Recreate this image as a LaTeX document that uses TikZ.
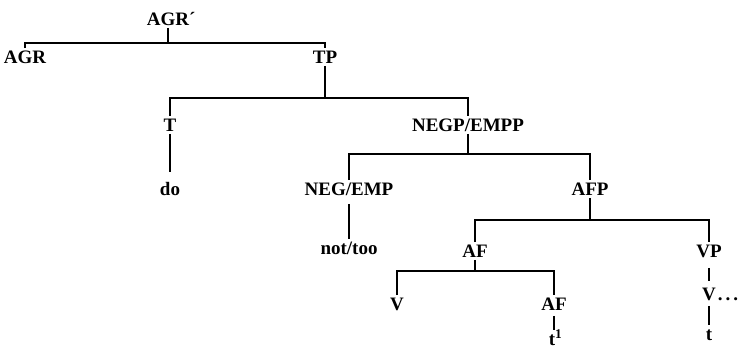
\documentclass[tikz,border=0pt]{standalone}
\usepackage{fontspec}
\setmainfont{Liberation Serif}
\begin{document}
\begin{tikzpicture}[x=1pt,y=1pt,
  lab/.style={font=\fontsize{19}{21}\selectfont\bfseries, text height=12.5pt, text depth=0pt, inner sep=2.5pt, anchor=center},
  br/.style={line width=1.4pt}]
\useasboundingbox (0,0) rectangle (751,-361);
% nodes
\node[lab] (agrp) at (168,-19) {AGR\rlap{´}};
\node[lab] (agr) at (25,-57) {AGR};
\node[lab] (tp) at (325,-57) {TP};
\node[lab] (t) at (170,-125) {T};
\node[lab] (negpp) at (468,-125) {NEGP/EMPP};
\node[lab] (do) at (170,-189) {do};
\node[lab] (negemp) at (349,-189) {NEG/EMP};
\node[lab] (afp) at (590,-189) {AFP};
\node[lab] (nottoo) at (349,-248) {not/too};
\node[lab] (afa) at (475,-251) {AF};
\node[lab] (vp) at (709,-251) {VP};
\node[lab] (va) at (397,-304) {V};
\node[lab] (afb) at (554,-304) {AF};
\node[lab] (ta) at (552,-339) {t\rlap{\textsuperscript{1}}};
\node[lab] (vb) at (709,-294) {V\rlap{\kern2pt.\kern3pt.\kern3pt.}};
\node[lab] (tb) at (709,-334) {t};
% bar heights
\coordinate (b1) at (0,-43);
\coordinate (b2) at (0,-98);
\coordinate (b3) at (0,-154);
\coordinate (b4) at (0,-220);
\coordinate (b5) at (0,-271);
% branches
\draw[br] (agrp.south) -- (agrp.south |- b1);
\draw[br] (agr.north) -- (agr.north |- b1) -- (tp.north |- b1) -- (tp.north);
\draw[br] (tp.south) -- (tp.south |- b2);
\draw[br] (t.north) -- (t.north |- b2) -- (negpp.north |- b2) -- (negpp.north);
\draw[br] (negpp.south) -- (negpp.south |- b3);
\draw[br] (negemp.north) -- (negemp.north |- b3) -- (afp.north |- b3) -- (afp.north);
\draw[br] (afp.south) -- (afp.south |- b4);
\draw[br] (afa.north) -- (afa.north |- b4) -- (vp.north |- b4) -- (vp.north);
\draw[br] (afa.south) -- (afa.south |- b5);
\draw[br] (va.north) -- (va.north |- b5) -- (afb.north |- b5) -- (afb.north);
% unary
\draw[br,shorten >=8pt] (t.south) -- (t.south |- do.north);
\draw[br,shorten <=6pt] (negemp.south) -- (negemp.south |- nottoo.north);
\draw[br,shorten <=3pt] (afb.south) -- (afb.south |- ta.north);
\draw[br,shorten <=8pt,shorten >=4pt] (vp.south) -- (vp.south |- vb.north);
\draw[br,shorten <=3pt] (vb.south) -- (vb.south |- tb.north);
\end{tikzpicture}
\end{document}
